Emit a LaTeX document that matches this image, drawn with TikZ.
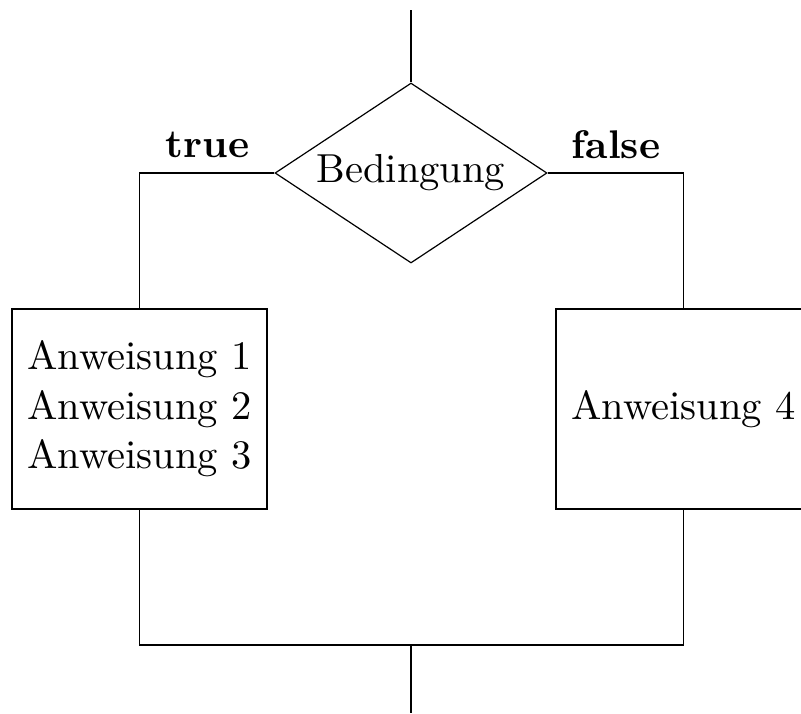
\documentclass[tikz,border=0pt]{standalone}
\usetikzlibrary{shapes.geometric}
% Latin Modern at the 10pt design size, scaled up
\font\flowrm="[lmroman10-regular]:mapping=tex-text" at 40.5pt
\font\flowbf="[lmroman10-bold]:mapping=tex-text" at 40pt
\begin{document}
\begin{tikzpicture}[x=1pt,y=-1pt,
  flowline/.style={draw=black,line width=1.2pt},
  decision/.style={diamond,flowline,inner sep=0pt,aspect=1.5,
    minimum width=272pt,minimum height=180pt,font=\flowrm},
  stmtbox/.style={rectangle,flowline,inner sep=0pt,
    minimum width=255pt,minimum height=200pt,align=center,
    font={\flowrm\baselineskip=49.5pt\relax}},
  branchlabel/.style={anchor=base,inner sep=0pt,font=\flowbf}]
  \useasboundingbox (0,0) rectangle (801,713);

  \coordinate (start) at (411,10);
  \coordinate (stop) at (411,713);
  \coordinate (merge) at (411,645);

  \node[decision] (cond) at (411,173) {Bedingung};
  \node[stmtbox] (thenbox) at (139.5,409) {Anweisung 1\\Anweisung 2\\Anweisung 3};
  \node[stmtbox] (elsebox) at (683.5,409) {Anweisung 4};

  \node[branchlabel] (truelbl) at (207.5,157) {true};
  \node[branchlabel] (falselbl) at (616,158) {false};

  \draw[flowline] (start) -- (cond.north);
  \draw[flowline] (cond.west) -| (thenbox.north);
  \draw[flowline] (cond.east) -| (elsebox.north);
  \draw[flowline] (thenbox.south) |- (merge) -| (elsebox.south);
  \draw[flowline] (merge) -- (stop);
\end{tikzpicture}
\end{document}
